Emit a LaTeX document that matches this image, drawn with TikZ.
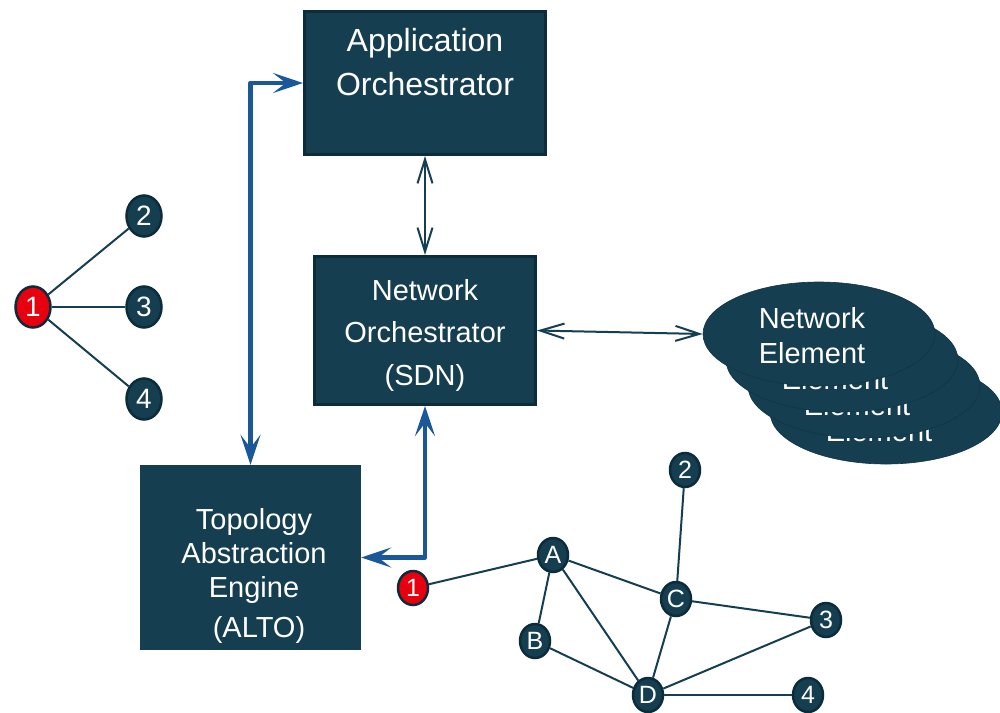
\documentclass[tikz,border=0pt]{standalone}
\usepackage{fontspec}
\setmainfont{Liberation Sans}
\usetikzlibrary{arrows.meta,shapes.geometric,calc}
\definecolor{boxfill}{RGB}{21,62,80}
\definecolor{boxedge}{RGB}{12,44,58}
\definecolor{cloudedge}{RGB}{17,53,70}
\definecolor{linkblue}{RGB}{26,88,154}
\definecolor{hotred}{RGB}{232,0,14}

\begin{document}
\begin{tikzpicture}[x=1pt,y=-1pt,
  box/.style={rectangle, fill=boxfill, inner sep=0pt},
  framedbox/.style={box, draw=boxedge, line width=3pt},
  btext/.style={text=white, align=center, inner sep=0pt, anchor=north},
  cloudnode/.style={ellipse, fill=boxfill, draw=cloudedge, line width=0.6pt,
    minimum width=232pt, minimum height=104pt, inner sep=0pt},
  gnode/.style={ellipse, fill=boxfill, draw=boxedge, line width=2.5pt,
    text=white, inner sep=0pt},
  bignode/.style={gnode, minimum width=35pt, minimum height=41pt,
    font=\fontsize{28}{28}\selectfont},
  smallnode/.style={gnode, minimum width=30pt, minimum height=34pt,
    font=\fontsize{25}{25}\selectfont},
  hot/.style={fill=hotred},
  edge/.style={draw=boxfill, line width=2pt},
  thinlink/.style={draw=boxfill, line width=2pt,
    {Straight Barb[length=24pt,width=15pt,line width=2pt]}-{Straight Barb[length=24pt,width=15pt,line width=2pt]}},
  bluelink/.style={draw=linkblue, line width=4.5pt, line join=round,
    {Stealth[length=30pt,width=20pt,inset=13pt]}-{Stealth[length=30pt,width=20pt,inset=13pt]}}
]
\useasboundingbox[fill=white] (0,0) rectangle (1000,712);

% orchestration boxes
\node[framedbox, minimum width=241pt, minimum height=143pt] (app) at (425,83) {};
\node[btext, font=\fontsize{32}{44}\selectfont] (apptxt) at (425,28) {Application\\Orchestrator};

\node[framedbox, minimum width=221pt, minimum height=148pt] (net) at (425,330.5) {};
\node[btext, font=\fontsize{29}{42.5}\selectfont] (nettxt) at (425,279) {Network\\Orchestrator\\(SDN)};

\node[box, minimum width=221pt, minimum height=185pt] (topo) at (250.5,557.5) {};
\node[btext, font=\fontsize{29}{34}\selectfont] (topotxt) at (254,508) {Topology\\Abstraction\\Engine\\[6pt]\hspace*{10pt}(ALTO)};

% stack of network elements, back to front
\node[cloudnode] (ne4) at (886,412) {};
\node[btext, font=\fontsize{29}{35}\selectfont] (ne4txt) at ([shift={(-7,-27)}]ne4.center) {Network\\Element};
\node[cloudnode] (ne3) at (864,386) {};
\node[btext, font=\fontsize{29}{35}\selectfont] (ne3txt) at ([shift={(-7,-27)}]ne3.center) {Network\\Element};
\node[cloudnode] (ne2) at (842,360) {};
\node[btext, font=\fontsize{29}{35}\selectfont] (ne2txt) at ([shift={(-7,-27)}]ne2.center) {Network\\Element};
\node[cloudnode] (ne1) at (819,334) {};
\node[btext, font=\fontsize{29}{35}\selectfont] (ne1txt) at ([shift={(-7,-27)}]ne1.center) {Network\\Element};

% control links
\draw[thinlink] (app.south) -- (net.north);
\draw[thinlink] (net.east) -- (ne1.west);
\draw[bluelink] (topo.north) |- (app.west);
\draw[bluelink] (net.south) |- (topo.east);

% abstracted topology
\node[bignode, hot] (l1) at (33,307) {1};
\node[bignode] (l2) at (144,216) {2};
\node[bignode] (l3) at (144,307) {3};
\node[bignode] (l4) at (144,399) {4};
\draw[edge] (l1) -- (l2);
\draw[edge] (l1) -- (l3);
\draw[edge] (l1) -- (l4);

% physical topology
\node[smallnode, hot] (r1) at (413,588) {1};
\node[smallnode] (a) at (553,555) {A};
\node[smallnode] (b) at (535,641) {B};
\node[smallnode] (c) at (676,599) {C};
\node[smallnode] (d) at (648,695) {D};
\node[smallnode] (r2) at (685,470) {2};
\node[smallnode] (r3) at (826,620) {3};
\node[smallnode] (r4) at (808,695) {4};
\draw[edge] (r1) -- (a);
\draw[edge] (a) -- (b);
\draw[edge] (a) -- (c);
\draw[edge] (a) -- (d);
\draw[edge] (b) -- (d);
\draw[edge] (c) -- (r2);
\draw[edge] (c) -- (d);
\draw[edge] (c) -- (r3);
\draw[edge] (d) -- (r3);
\draw[edge] (d) -- (r4);
\end{tikzpicture}
\end{document}
